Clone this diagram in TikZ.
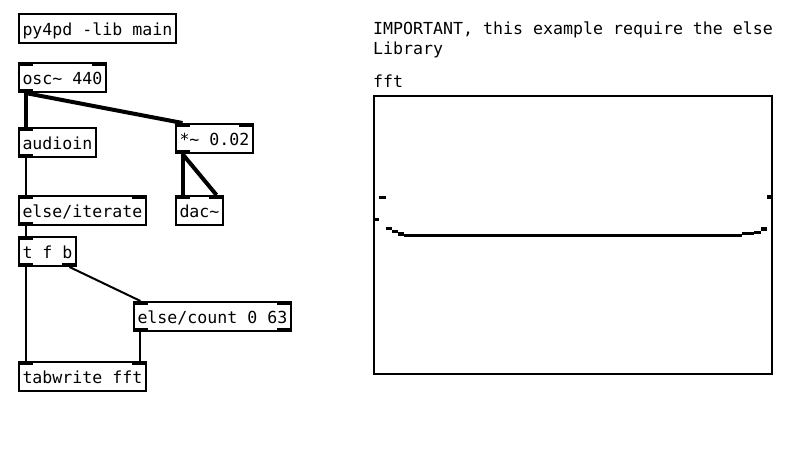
\documentclass[tikz,border=0pt]{standalone}
\usepackage{fontspec}
\setmonofont{DejaVu Sans Mono}
\usetikzlibrary{calc}

\begin{document}
\begin{tikzpicture}[
  x=1pt, y=-1pt,
  font=\ttfamily\fontsize{16.6}{20}\selectfont,
  obj/.style={draw, line width=1.6pt, rectangle, anchor=north west, inner xsep=3.7pt, minimum height=29.4pt, text height=15.5pt, text depth=2.5pt},
  comment/.style={inner sep=0pt, align=left},
  iolet/.style={fill=black},
  sig/.style={line width=4pt},
  ctl/.style={line width=2pt}
]
\useasboundingbox (0,0) rectangle (791,463);

% Objets
\node[obj] (py4pd) at (18,13) {py4pd -lib main};
\node[obj] (osc) at (18,62) {osc\textasciitilde{} 440};
\node[obj] (audioin) at (18,127) {audioin};
\node[obj] (mul) at (175,123) {*\textasciitilde{} 0.02};
\node[obj] (iterate) at (18,195) {else/iterate};
\node[obj] (dac) at (175,195) {dac\textasciitilde};
\node[obj] (tfb) at (18,236) {t f b};
\node[obj] (count) at (133,301) {else/count 0 63};
\node[obj] (tabwrite) at (18,361) {tabwrite fft};

% Inlets / outlets
\foreach \n in {osc,audioin,mul,iterate,dac,tfb,count,tabwrite}
  \fill[iolet] (\n.north west) rectangle ++(15,4);
\foreach \n in {osc,mul,iterate,dac,count,tabwrite}
  \fill[iolet] (\n.north east) rectangle ++(-15,4);
\foreach \n in {osc,audioin,mul,iterate,tfb,count}
  \fill[iolet] (\n.south west) rectangle ++(15,-4);
\foreach \n in {tfb,count}
  \fill[iolet] (\n.south east) rectangle ++(-15,-4);

% Connexions
\draw[sig] ([xshift=7.5pt]osc.south west) -- ([xshift=7.5pt]audioin.north west);
\draw[sig] ([xshift=7.5pt]osc.south west) -- ([xshift=7.5pt]mul.north west);
\draw[ctl] ([xshift=7.5pt]audioin.south west) -- ([xshift=7.5pt]iterate.north west);
\draw[sig] ([xshift=7.5pt]mul.south west) -- ([xshift=7.5pt]dac.north west);
\draw[sig] ([xshift=7.5pt]mul.south west) -- ([xshift=-7.5pt]dac.north east);
\draw[ctl] ([xshift=7.5pt]iterate.south west) -- ([xshift=7.5pt]tfb.north west);
\draw[ctl] ([xshift=7.5pt]tfb.south west) -- ([xshift=7.5pt]tabwrite.north west);
\draw[ctl] ([xshift=-7.5pt]tfb.south east) -- ([xshift=7.5pt]count.north west);
\draw[ctl] ([xshift=7pt]count.south west) -- ([xshift=7pt]count.south west |- tabwrite.north);

% Commentaire et tableau
\node[comment, anchor=north west] (note) at (373,21.6) {IMPORTANT, this example require the else\\Library};
\node[obj, minimum width=398.4pt, minimum height=278.4pt, inner sep=0pt] (garray) at (373,95) {};
\node[comment, anchor=base west] (fftlabel) at ([yshift=8pt]garray.north west) {fft};

\begin{scope}[shift={(garray.north west)}]
  \foreach \i/\v in {0/124.5,1/102.5,2/133.5,3/136.5,4/139,59/138.5,60/138.5,61/137.5,62/134,63/102}
    \fill ({6.25*\i},{\v-1.6}) rectangle ++(6.25,3.2);
  \fill (31.25,138.9) rectangle (368.75,142.1);
\end{scope}

\end{tikzpicture}
\end{document}
